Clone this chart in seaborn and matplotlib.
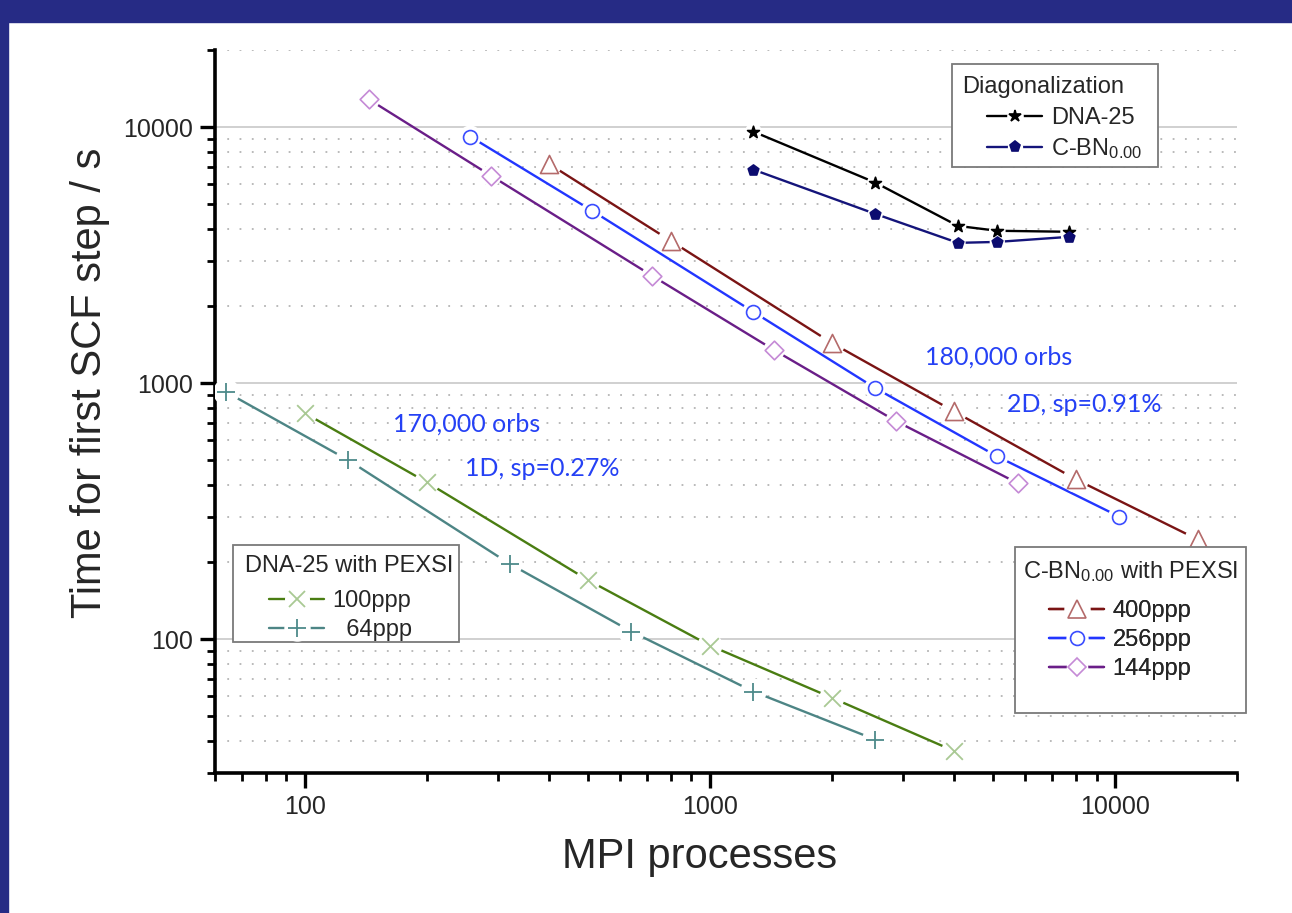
import matplotlib
matplotlib.use("Agg")
import pandas as pd
import seaborn as sns
from matplotlib import pyplot as plt
from matplotlib.lines import Line2D
from matplotlib.patches import Rectangle
from matplotlib.legend_handler import HandlerTuple
from matplotlib.ticker import LogLocator, NullFormatter

# diagonalization timings
diag_procs = [1280, 2560, 4096, 5120, 7680]
diag_dna_time = [9600, 6070, 4110, 3935, 3900]
diag_cbn_time = [6820, 4580, 3530, 3560, 3725]

# C-BN with PEXSI
cbn400_procs = [400, 800, 2000, 4000, 8000, 16000]
cbn400_time = [7190, 3595, 1434, 776, 421, 245]
cbn256_procs = [256, 512, 1280, 2560, 5120, 10240]
cbn256_time = [9180, 4710, 1897, 956, 517, 301]
cbn144_procs = [144, 288, 720, 1440, 2880, 5760]
cbn144_time = [12820, 6460, 2625, 1346, 710, 406]

# DNA-25 with PEXSI
dna100_procs = [100, 200, 500, 1000, 2000, 4000]
dna100_time = [763, 410, 170, 94.4, 59, 36.6]
dna64_procs = [64, 128, 320, 640, 1280, 2560]
dna64_time = [922, 500, 197, 107, 62.4, 40.5]

x_ticks = [100, 1000, 10000]
x_ticklabels = ["100", "1000", "10000"]
y_ticks = [100, 1000, 10000]
y_ticklabels = ["100", "1000", "10000"]

W, H = 1292, 913


def fx(px):
    return px / W


def fy(py):
    return 1 - py / H


sns.set_theme(style="white")
plt.rcParams["font.family"] = ["Liberation Sans", "DejaVu Sans"]
plt.rcParams["mathtext.default"] = "regular"

fig = plt.figure(figsize=(W / 100, H / 100), dpi=100)
fig.patch.set_facecolor("white")
border = "#262b85"
fig.patches.append(Rectangle((0, fy(22)), 1, 22 / H, transform=fig.transFigure,
                             color=border, zorder=0))
fig.patches.append(Rectangle((0, 0), fx(8), 1, transform=fig.transFigure,
                             color=border, zorder=0))

ax = fig.add_axes([fx(215), fy(773), fx(1237) - fx(215), fy(50) - fy(773)])
ax.set_facecolor("white")

# (procs, time, line colour, marker, marker colour, size, filled)
series = {
    "DNA-25": (diag_procs, diag_dna_time, "black", "*", "black", 9, True),
    "C-BN$_{0.00}$": (diag_procs, diag_cbn_time, "#14147a", "p", "#0c0c70", 8, True),
    "400ppp": (cbn400_procs, cbn400_time, "#7a1414", "^", "#b46a6a", 13, False),
    "256ppp": (cbn256_procs, cbn256_time, "#2236ff", "o", "#3a4cff", 10, False),
    "144ppp": (cbn144_procs, cbn144_time, "#6a1e88", "D", "#c58ad6", 9.5, False),
    "100ppp": (dna100_procs, dna100_time, "#4a7d12", "x", "#a9c994", 12, False),
    "  64ppp": (dna64_procs, dna64_time, "#4d8585", "+", "#4d8a8a", 13, False),
}

handles = {}
for name, (xs, ys, lc, mk, mc, ms, filled) in series.items():
    df = pd.DataFrame({"procs": xs, "time": ys})
    sns.lineplot(data=df, x="procs", y="time", ax=ax, color=lc, lw=1.7,
                 zorder=3, legend=False)
    gap = ms + 6 if not filled else ms + 3
    sns.scatterplot(data=df, x="procs", y="time", ax=ax, marker="o",
                    s=gap ** 2, color="white", edgecolor="none", zorder=4,
                    legend=False)
    if mk in ("x", "+"):
        sns.scatterplot(data=df, x="procs", y="time", ax=ax, marker=mk,
                        s=ms ** 2, color=mc, linewidth=1.3, zorder=5,
                        legend=False)
    else:
        sns.scatterplot(data=df, x="procs", y="time", ax=ax, marker=mk,
                        s=ms ** 2, color=mc if filled else "white",
                        edgecolor=mc, linewidth=1.2, zorder=5, legend=False)
    h_line = Line2D([], [], color=lc, lw=1.7)
    h_gap = Line2D([], [], ls="none", marker="o", ms=gap, mfc="white", mec="none")
    if mk in ("x", "+"):
        h_mk = Line2D([], [], ls="none", marker=mk, ms=ms, mec=mc, mew=1.3)
    else:
        h_mk = Line2D([], [], ls="none", marker=mk, ms=ms,
                      mfc=mc if filled else "white", mec=mc, mew=1.2)
    handles[name] = (h_line, h_gap, h_mk)

ax.set_xscale("log")
ax.set_yscale("log")
ax.set_xlim(60, 20000)
ax.set_ylim(30, 20000)

ax.set_xticks(x_ticks)
ax.set_xticklabels(x_ticklabels)
ax.set_yticks(y_ticks)
ax.set_yticklabels(y_ticklabels)
ax.xaxis.set_minor_locator(LogLocator(base=10, subs=range(2, 10), numticks=20))
ax.yaxis.set_minor_locator(LogLocator(base=10, subs=range(2, 10), numticks=20))
ax.xaxis.set_minor_formatter(NullFormatter())
ax.yaxis.set_minor_formatter(NullFormatter())

ax.tick_params(which="major", direction="out", length=11, width=2.4,
               labelsize=18, color="black", pad=5, bottom=True, left=True)
ax.tick_params(which="minor", direction="out", length=6, width=2.0,
               color="black", bottom=True, left=True)

ax.yaxis.grid(True, which="major", color="#c8c8c8", lw=1.2, ls="-", zorder=0)
ax.yaxis.grid(True, which="minor", color="#b4b4b4", lw=1.3, ls=(0, (1, 5.8)), zorder=0)
ax.xaxis.grid(False)
for side in ("top", "right"):
    ax.spines[side].set_visible(False)
for side in ("left", "bottom"):
    ax.spines[side].set_color("black")
    ax.spines[side].set_linewidth(2.6)

ax.set_xlabel("MPI processes", fontsize=30)
ax.set_ylabel("Time for first SCF step / s", fontsize=30)
ax.xaxis.set_label_coords((700 - 215) / 1022, -(857 - 773) / 723)
ax.yaxis.set_label_coords(-(215 - 90) / 1022, (773 - 383) / 723)
ax.xaxis.label.set_va("center")
ax.yaxis.label.set_va("center")

# annotations
blue = "#2541f5"
ann_font = ["Lato", "DejaVu Sans"]
fig.text(fx(393), fy(424), "170,000 orbs", color=blue, fontsize=18,
         family=ann_font, va="center", ha="left")
fig.text(fx(465), fy(468), "1D, sp=0.27%", color=blue, fontsize=18,
         family=ann_font, va="center", ha="left")
fig.text(fx(925), fy(357), "180,000 orbs", color=blue, fontsize=18,
         family=ann_font, va="center", ha="left")
fig.text(fx(1007), fy(405), "2D, sp=0.91%", color=blue, fontsize=18,
         family=ann_font, va="center", ha="left")


def legend_box(x0, y0, x1, y1, title, tx, ty, names, hx, hy):
    ax.add_patch(Rectangle((fx(x0), fy(y1)), fx(x1) - fx(x0), fy(y0) - fy(y1),
                           transform=fig.transFigure, facecolor="white",
                           edgecolor="#7a7a7a", lw=1.3, zorder=6, clip_on=False))
    ax.text(fx(tx), fy(ty), title, transform=fig.transFigure, fontsize=17,
            va="center", ha="left", zorder=8)
    leg = ax.legend([handles[n] for n in names], names, loc="upper left",
                    bbox_to_anchor=(fx(hx), fy(hy)), bbox_transform=fig.transFigure,
                    frameon=False, fontsize=17, handlelength=2.35,
                    handletextpad=0.35, labelspacing=0.3, borderpad=0,
                    borderaxespad=0,
                    handler_map={tuple: HandlerTuple(ndivide=1, pad=0)})
    leg.set_zorder(8)
    ax.add_artist(leg)


legend_box(952, 64, 1158, 167, "Diagonalization", 962, 87,
           ["DNA-25", "C-BN$_{0.00}$"], 987, 107)
legend_box(233, 545, 459, 642, "DNA-25 with PEXSI", 245, 566,
           ["100ppp", "  64ppp"], 269, 590)
legend_box(1015, 547, 1246, 713, "C-BN$_{0.00}$ with PEXSI", 1023, 572,
           ["400ppp", "256ppp", "144ppp"], 1049, 600)

fig.savefig("out.png", dpi=100, facecolor="white")
